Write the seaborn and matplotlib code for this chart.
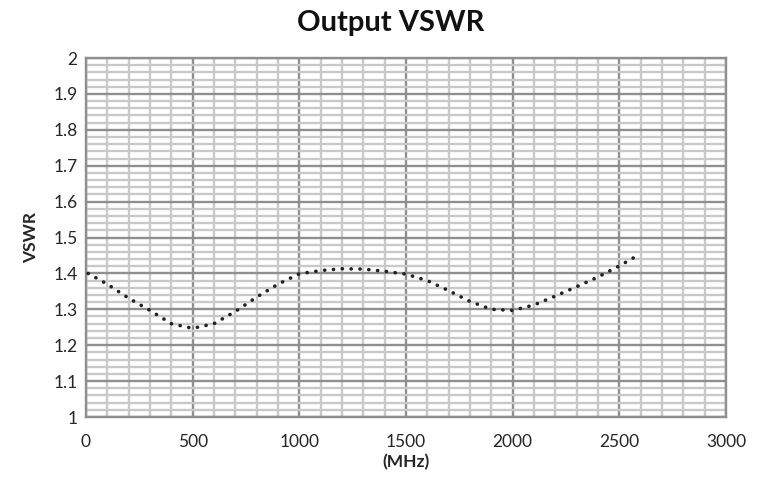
import matplotlib
matplotlib.use("Agg")
import matplotlib.pyplot as plt
import seaborn as sns
import pandas as pd
import numpy as np
from matplotlib.ticker import MultipleLocator

freq_mhz = [10, 100, 200, 300, 400, 500, 600, 700, 800, 900, 1000, 1100, 1200, 1300,
            1400, 1500, 1600, 1700, 1800, 1900, 2000, 2100, 2200, 2300, 2400, 2500, 2580]
vswr = [1.400, 1.370, 1.331, 1.297, 1.260, 1.247, 1.260, 1.294, 1.334, 1.370, 1.399,
        1.408, 1.413, 1.412, 1.406, 1.398, 1.380, 1.352, 1.322, 1.300, 1.297, 1.312,
        1.337, 1.363, 1.390, 1.421, 1.448]

x_ticks = [0, 500, 1000, 1500, 2000, 2500, 3000]
y_ticks = [1.0, 1.1, 1.2, 1.3, 1.4, 1.5, 1.6, 1.7, 1.8, 1.9, 2.0]
y_tick_labels = ["1", "1.1", "1.2", "1.3", "1.4", "1.5", "1.6", "1.7", "1.8", "1.9", "2"]

title = "Output VSWR"
x_label = "(MHz)"
y_label = "VSWR"

df = pd.DataFrame({"freq": freq_mhz, "vswr": vswr})

sns.set_theme(style="white")
plt.rcParams["font.family"] = ["Lato", "DejaVu Sans"]

fig = plt.figure(figsize=(7.63, 4.79), dpi=100)
ax = fig.add_axes([0.1127, 0.1294, 0.8388, 0.7495])

sns.lineplot(data=df, x="freq", y="vswr", ax=ax, color="#222222",
             linewidth=2.6, linestyle=(0, (0.05, 2.4)), zorder=5)
for line in ax.get_lines():
    line.set_dash_capstyle("round")

ax.set_xlim(0, 3000)
ax.set_ylim(1.0, 2.0)
ax.set_xticks(x_ticks)
ax.set_xticklabels([str(t) for t in x_ticks])
ax.set_yticks(y_ticks)
ax.set_yticklabels(y_tick_labels)
ax.xaxis.set_minor_locator(MultipleLocator(100))
ax.yaxis.set_minor_locator(MultipleLocator(0.02))

ax.grid(which="minor", color="#c9c9c9", linewidth=1.7, zorder=0)
ax.grid(which="major", color="#8f8f8f", linewidth=1.7, zorder=1)
ax.set_axisbelow(True)
ax.tick_params(which="both", length=0)
ax.tick_params(axis="y", pad=6, labelsize=12.5, labelcolor="#262626")
ax.tick_params(axis="x", pad=12, labelsize=12.5, labelcolor="#262626")

for s in ax.spines.values():
    s.set_color("#8f8f8f")
    s.set_linewidth(1.7)

ax.set_xlabel(x_label, fontsize=12.5, fontweight="bold", color="#262626", labelpad=3)
ax.set_ylabel(y_label, fontsize=12.5, fontweight="bold", color="#262626", labelpad=10)
fig.text(0.512, 0.952, title, ha="center", va="center", fontsize=21,
         fontweight="bold", color="#111111")

fig.savefig("out.png", dpi=100)
